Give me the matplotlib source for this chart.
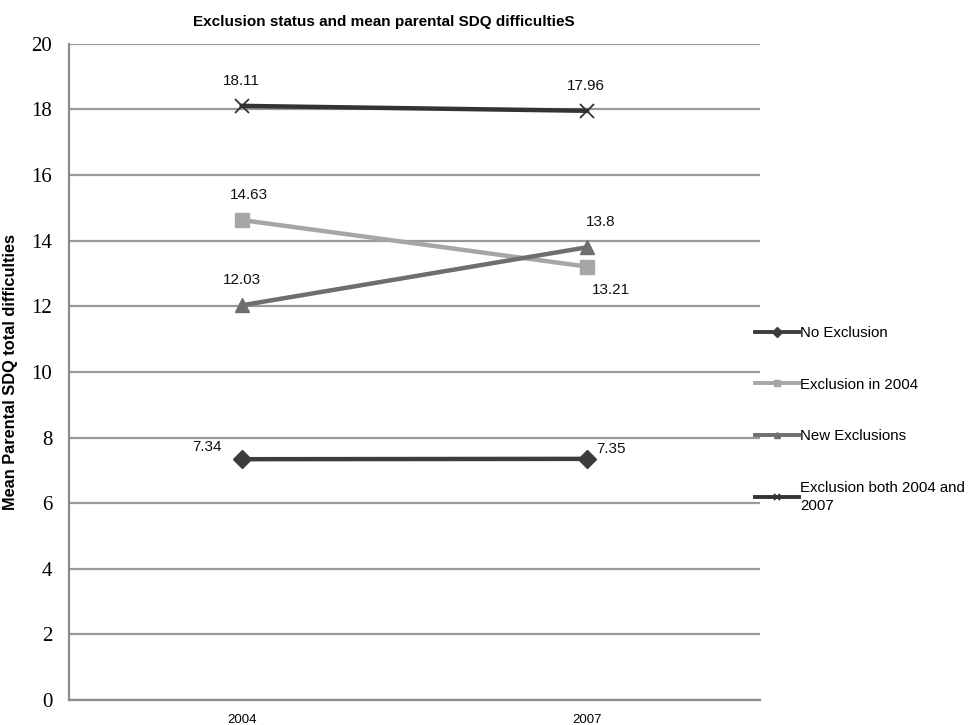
import matplotlib
matplotlib.use("Agg")
import matplotlib.pyplot as plt

years = ["2004", "2007"]
series_names = ["No Exclusion", "Exclusion in 2004", "New Exclusions",
                "Exclusion both 2004 and\n2007"]
no_exclusion = [7.34, 7.35]
excl_2004 = [14.63, 13.21]
new_excl = [12.03, 13.80]
excl_both = [18.11, 17.96]
y_ticks = [0, 2, 4, 6, 8, 10, 12, 14, 16, 18, 20]

fig = plt.figure(figsize=(9.73, 7.25), dpi=100)
ax = fig.add_axes([0.0709, 0.0345, 0.710, 0.905])

x = list(range(len(years)))
styles = [
    dict(color="#3c3c3c", marker="D", markersize=9, lw=3.2),
    dict(color="#a6a6a6", marker="s", markersize=10, lw=3.2),
    dict(color="#6e6e6e", marker="^", markersize=10, lw=3.2),
    dict(color="#333333", marker="x", markersize=10, lw=3.2, mew=1.3),
]
data = [no_exclusion, excl_2004, new_excl, excl_both]
lines = []
for vals, name, st in zip(data, series_names, styles):
    ln, = ax.plot(x, vals, label=name, zorder=3, **st)
    lines.append(ln)

# value labels, offsets in points from each marker
lab_kw = dict(fontsize=11, family="Liberation Sans", color="#111111")
offsets = [
    [(-25, 9), (17, 7)],
    [(5, 18), (17, -17)],
    [(0, 18), (10, 18)],
    [(0, 18), (-1, 18)],
]
for vals, offs in zip(data, offsets):
    for xi, v, (dx, dy) in zip(x, vals, offs):
        txt = f"{v:g}"
        ax.annotate(txt, (xi, v), xytext=(dx, dy), textcoords="offset points",
                    ha="center", va="center", **lab_kw)

ax.set_xlim(-0.5, 1.5)
ax.set_ylim(0, 20)
ax.set_yticks(y_ticks)
ax.set_yticklabels([str(t) for t in y_ticks], family="Liberation Serif",
                   fontsize=15)
ax.set_xticks(x)
ax.set_xticklabels(years, family="Liberation Sans", fontsize=9.5)
ax.tick_params(axis="y", length=0, pad=12)
ax.tick_params(axis="x", length=0, pad=10)
ax.grid(axis="y", color="#999999", lw=1.6, zorder=0)
for side in ["top", "right"]:
    ax.spines[side].set_visible(False)
for side in ["left", "bottom"]:
    ax.spines[side].set_color("#8c8c8c")
    ax.spines[side].set_linewidth(1.6)

ax.set_ylabel("Mean Parental SDQ total difficulties", family="Liberation Sans",
              fontsize=11.8, fontweight="bold")
ax.yaxis.set_label_coords(-(69 - 18) / 691, 0.5)

fig.text(384 / 973, 1 - 22 / 725,
         "Exclusion status and mean parental SDQ difficultieS",
         ha="center", va="center", family="Liberation Sans", fontsize=11,
         fontweight="bold")

leg = fig.legend(handles=lines, loc="upper left",
                 bbox_to_anchor=(755 / 973, 1 - 326 / 725),
                 frameon=False, handlelength=2.95,
                 handletextpad=0.05, labelspacing=2.5, borderaxespad=0,
                 borderpad=0,
                 prop={"family": "Liberation Sans", "size": 10.8})
for t in leg.get_texts():
    t.set_linespacing(1.45)
for h in leg.legend_handles:
    h.set_markersize(5)
    h.set_linewidth(2.8)

fig.savefig("out.png", dpi=100)
